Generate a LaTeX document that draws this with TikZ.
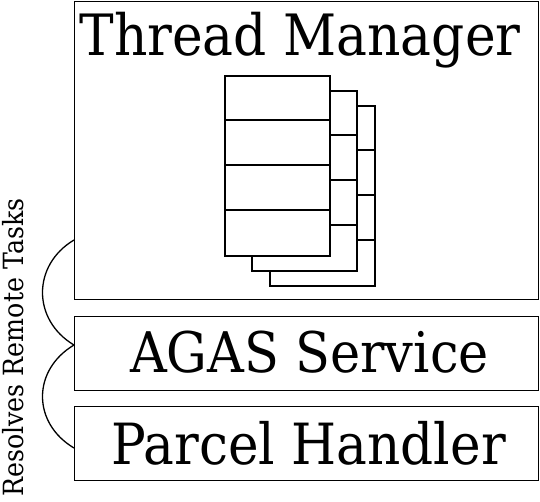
\documentclass[tikz,border=0pt]{standalone}
\usepackage{fontspec}
\setmainfont[FakeStretch=0.91]{DejaVu Serif}
\begin{document}
\begin{tikzpicture}[x=1pt,y=-1pt,
  box/.style={draw, line width=1.3pt, inner sep=0pt, anchor=north west},
  page/.style={draw, fill=white, line width=1.5pt, inner sep=0pt, anchor=north west,
    minimum width=105pt, minimum height=180pt},
  rowline/.style={line width=1.5pt},
  arcline/.style={line width=1.3pt},
  title/.style={anchor=base, inner sep=0pt}]
\useasboundingbox (0,0) rectangle (540,501);
% boxes
\node[box, minimum width=464pt, minimum height=298pt] (tm) at (74,1) {};
\node[box, minimum width=464pt, minimum height=74pt] (agas) at (74,316) {};
\node[box, minimum width=464pt, minimum height=74pt] (ph) at (74,406) {};
% texts
\node[title, font=\fontsize{57}{58}\selectfont] (tmt) at (300,55) {Thread Manager};
\node[title, font=\fontsize{56}{57}\selectfont] (agast) at (309.5,372.5) {AGAS Service};
\node[title, font=\fontsize{56.8}{57}\selectfont] (pht) at (308.5,464) {Parcel Handler};
% stack of pages
\foreach \dx/\dy/\n in {45/30/c, 27/15/b, 0/0/a}{
  \node[page] (p\n) at (224+\dx,75+\dy) {};
  \draw[rowline] ([yshift=-45pt]p\n.north west) -- ([yshift=-45pt]p\n.north east);
  \draw[rowline] ([yshift=-90pt]p\n.north west) -- ([yshift=-90pt]p\n.north east);
  \draw[rowline] ([yshift=-135pt]p\n.north west) -- ([yshift=-135pt]p\n.north east);
}
% arcs
\coordinate (a1) at (74,240);
\coordinate (a2) at (74,345);
\coordinate (a3) at (74,448);
\draw[arcline] (a1) .. controls (32,265) and (32,320) .. (a2)
               .. controls (32,370) and (32,423) .. (a3);
\node[anchor=base, rotate=90, inner sep=0pt, font=\fontsize{27.8}{28}\selectfont] (lbl) at (23,347.5) {Resolves Remote Tasks};
\end{tikzpicture}
\end{document}
